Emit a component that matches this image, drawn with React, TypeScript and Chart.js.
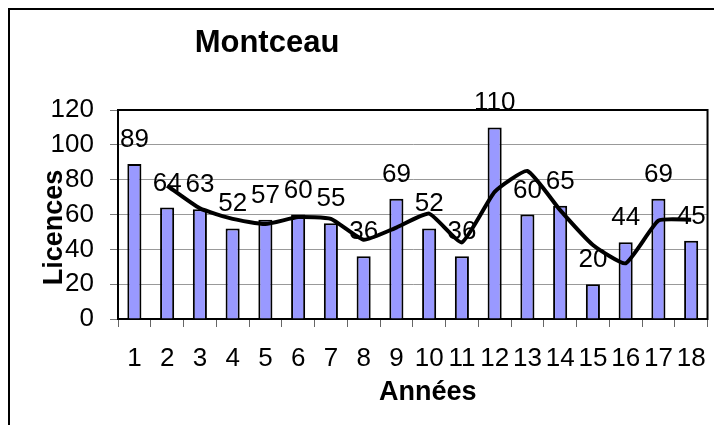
import React, { useEffect, useRef } from "react";
import { Chart, registerables } from "chart.js";

Chart.register(...registerables);

const chartTitle = "Montceau";
const xTitle = "Années";
const yTitle = "Licences";
const categories = ["1", "2", "3", "4", "5", "6", "7", "8", "9", "10", "11", "12", "13", "14", "15", "16", "17", "18"];
const licences = [89, 64, 63, 52, 57, 60, 55, 36, 69, 52, 36, 110, 60, 65, 20, 44, 69, 45];
const trend = [null, 76.5, 63.5, 57.5, 54.5, 58.5, 57.5, 45.5, 52.5, 60.5, 44, 73, 85, 62.5, 42.5, 32, 56.5, 57];
const yMin = 0;
const yMax = 120;
const yStep = 20;

const FONT = '"Liberation Sans", Arial, sans-serif';

const decor = {
  id: "decor",
  beforeDraw(chart: any) {
    const ctx = chart.ctx;
    ctx.save();
    ctx.fillStyle = "#fff";
    ctx.fillRect(0, 0, chart.width, chart.height);
    ctx.restore();
  },
  beforeDatasetsDraw(chart: any) {
    const { ctx, chartArea: a } = chart;
    ctx.save();
    ctx.strokeStyle = "#000";
    ctx.lineWidth = 2;
    ctx.strokeRect(a.left, a.top, a.right - a.left, a.bottom - a.top);
    ctx.restore();
  },
  afterDatasetsDraw(chart: any) {
    const ctx = chart.ctx;
    const meta = chart.getDatasetMeta(1);
    ctx.save();
    ctx.font = `26px ${FONT}`;
    ctx.fillStyle = "#000";
    ctx.textAlign = "center";
    ctx.textBaseline = "alphabetic";
    meta.data.forEach((el: any, i: number) => {
      ctx.fillText(String(licences[i]), el.x, el.y - 17);
    });
    ctx.restore();
  },
  afterDraw(chart: any) {
    const { ctx, chartArea: a } = chart;
    ctx.save();
    ctx.strokeStyle = "#000";
    ctx.lineWidth = 2;
    ctx.strokeRect(1, 1, chart.width + 20, chart.height + 20);
    ctx.fillStyle = "#000";
    ctx.textAlign = "center";
    ctx.textBaseline = "alphabetic";
    ctx.font = `bold 31px ${FONT}`;
    ctx.fillText(chartTitle, 259, 44);
    ctx.font = `bold 27px ${FONT}`;
    ctx.fillText(xTitle, (a.left + a.right) / 2 + 15, 392);
    ctx.translate(54, (a.top + a.bottom) / 2 + 13);
    ctx.rotate(-Math.PI / 2);
    ctx.fillText(yTitle, 0, 0);
    ctx.restore();
  },
};

export default function App() {
  const ref = useRef<HTMLCanvasElement | null>(null);
  useEffect(() => {
    document.body.style.overflow = "hidden";
    const canvas = ref.current!;
    const chart = new Chart(canvas, {
      type: "bar",
      data: {
        labels: categories,
        datasets: [
          {
            type: "line",
            label: "Moyenne mobile",
            data: trend as any,
            borderColor: "#000",
            borderWidth: 4,
            pointRadius: 0,
            fill: false,
            tension: 0.15,
            order: 0,
          } as any,
          {
            type: "bar",
            label: "Licences",
            data: licences,
            backgroundColor: "#9999ff",
            borderColor: "#000",
            borderWidth: 2,
            barPercentage: 0.43,
            categoryPercentage: 1,
            order: 1,
          },
        ],
      },
      options: {
        animation: false,
        responsive: true,
        maintainAspectRatio: false,
        layout: { padding: { top: 102, right: 14, left: 0, bottom: 0 } },
        plugins: {
          legend: { display: false },
          title: { display: false },
          tooltip: { enabled: false },
        },
        scales: {
          x: {
            grid: {
              display: true,
              drawOnChartArea: false,
              drawTicks: true,
              tickLength: 8,
              color: "#666",
              offset: true,
            },
            border: { display: true, color: "#000", width: 2 },
            ticks: {
              font: { family: FONT, size: 26 },
              color: "#000",
              padding: 16,
              maxRotation: 0,
              autoSkip: false,
            },
            afterFit: (s: any) => {
              s.height = 106;
            },
          },
          y: {
            min: yMin,
            max: yMax,
            ticks: {
              stepSize: yStep,
              font: { family: FONT, size: 26 },
              color: "#000",
              padding: 16,
            },
            grid: { color: "#999", lineWidth: 1, tickLength: 8, tickColor: "#777" },
            border: { display: true, color: "#000", width: 2 },
            afterFit: (s: any) => {
              s.width = 110;
            },
          },
        },
      },
      plugins: [decor],
    });
    return () => chart.destroy();
  }, []);
  return (
    <div style={{ position: "relative", width: 714, height: 417 }}>
      <canvas ref={ref} />
    </div>
  );
}
